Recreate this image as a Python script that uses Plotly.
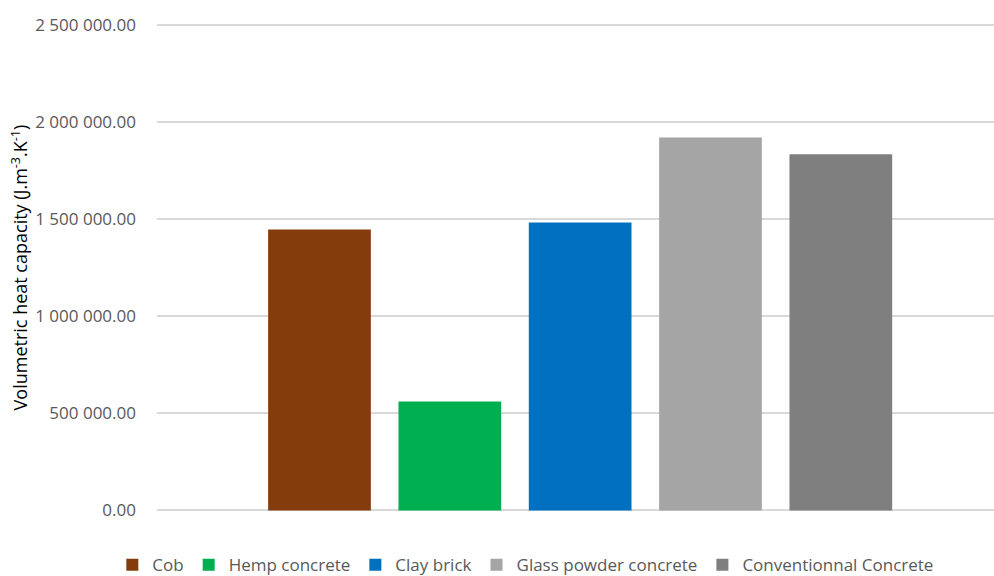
import plotly.graph_objects as go

materials = ["Cob", "Hemp concrete", "Clay brick", "Glass powder concrete", "Conventionnal Concrete"]
values = [1446000, 560000, 1482000, 1919000, 1833000]
colors = ["#843C0C", "#00B050", "#0070C0", "#A5A5A5", "#7F7F7F"]
category = [""]
y_ticks = [0, 500000, 1000000, 1500000, 2000000, 2500000]

FONT = "Open Sans"
fig = go.Figure()
for name, v, c in zip(materials, values, colors):
    fig.add_trace(go.Bar(name=name, x=category, y=[v], marker=dict(color=c, line=dict(width=0))))

fig.update_layout(
    width=994, height=576,
    margin=dict(l=157, r=0, t=22.7, b=63.7, autoexpand=False),
    paper_bgcolor="white", plot_bgcolor="white",
    barmode="group", bargap=0.23, bargroupgap=0.212,
    separators=". ",
    font=dict(family=FONT, color="#595959", size=17),
    showlegend=True,
    legend=dict(orientation="h", xref="container", x=0.529, xanchor="center",
                yref="paper", y=-0.109, yanchor="middle",
                font=dict(size=17, color="#595959"), itemwidth=30,
                traceorder="normal"),
    xaxis=dict(type="category", range=[-0.5, 0.489], showticklabels=False,
               showgrid=False, zeroline=False, showline=False),
    yaxis=dict(range=[-8000, 2508000], tickvals=y_ticks, tickformat=",.2f",
               showgrid=True, gridcolor="#D9D9D9", gridwidth=1.5,
               zeroline=False, showline=False, ticks="",
               ticklabelstandoff=20,
               tickfont=dict(size=17, color="#595959"),
               title=dict(text="Volumetric heat capacity (J.m<sup>-3</sup>.K<sup>-1</sup>)",
                          font=dict(size=18, color="#000000"), standoff=2)),
)
fig.write_html("out.html", post_script="document.body.style.margin='0';",
               config={"displayModeBar": False})
